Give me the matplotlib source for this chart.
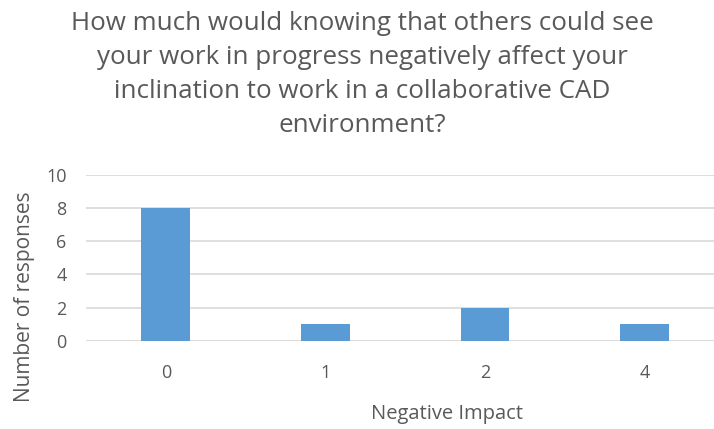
import matplotlib
matplotlib.use('Agg')
from matplotlib import pyplot as plt
import numpy as np

title = ('How much would knowing that others could see\n'
         'your work in progress negatively affect your\n'
         'inclination to work in a collaborative CAD\n'
         'environment?')
impact = ['0', '1', '2', '4']
responses = [8, 1, 2, 1]
yticks = [0, 2, 4, 6, 8, 10]

grey = '#595959'
plt.rcParams['font.family'] = ['Open Sans', 'DejaVu Sans']

fig = plt.figure(figsize=(7.14, 4.29), dpi=100)
ax = fig.add_axes([0.1204, 0.2058, 0.894, 0.387])

x = np.arange(len(impact))
ax.bar(x, responses, width=0.305, color='#5B9BD5', zorder=3)
ax.set_xlim(-0.5, len(impact) - 0.5)
ax.set_ylim(0, 10)
ax.set_yticks(yticks)
ax.set_xticks(x)
ax.set_xticklabels(impact)
ax.yaxis.grid(True, color='#D9D9D9', linewidth=1.2, zorder=0)
for s in ax.spines.values():
    s.set_visible(False)
ax.axhline(0, color='#D9D9D9', linewidth=1.2, zorder=1)
ax.tick_params(length=0, labelsize=13, colors=grey)
ax.tick_params(axis='y', pad=14)
ax.tick_params(axis='x', pad=17)

ax.set_xlabel('Negative Impact', fontsize=14.5, color=grey)
ax.set_ylabel('Number of responses', fontsize=15, color=grey)
ax.yaxis.set_label_coords(-0.08, 0.263)
ax.xaxis.set_label_coords(0.565, -0.38)

fig.text(0.507, 0.975, title, ha='center', va='top', fontsize=18.7,
         color=grey, linespacing=1.47)

plt.savefig('out.png', dpi=100)
